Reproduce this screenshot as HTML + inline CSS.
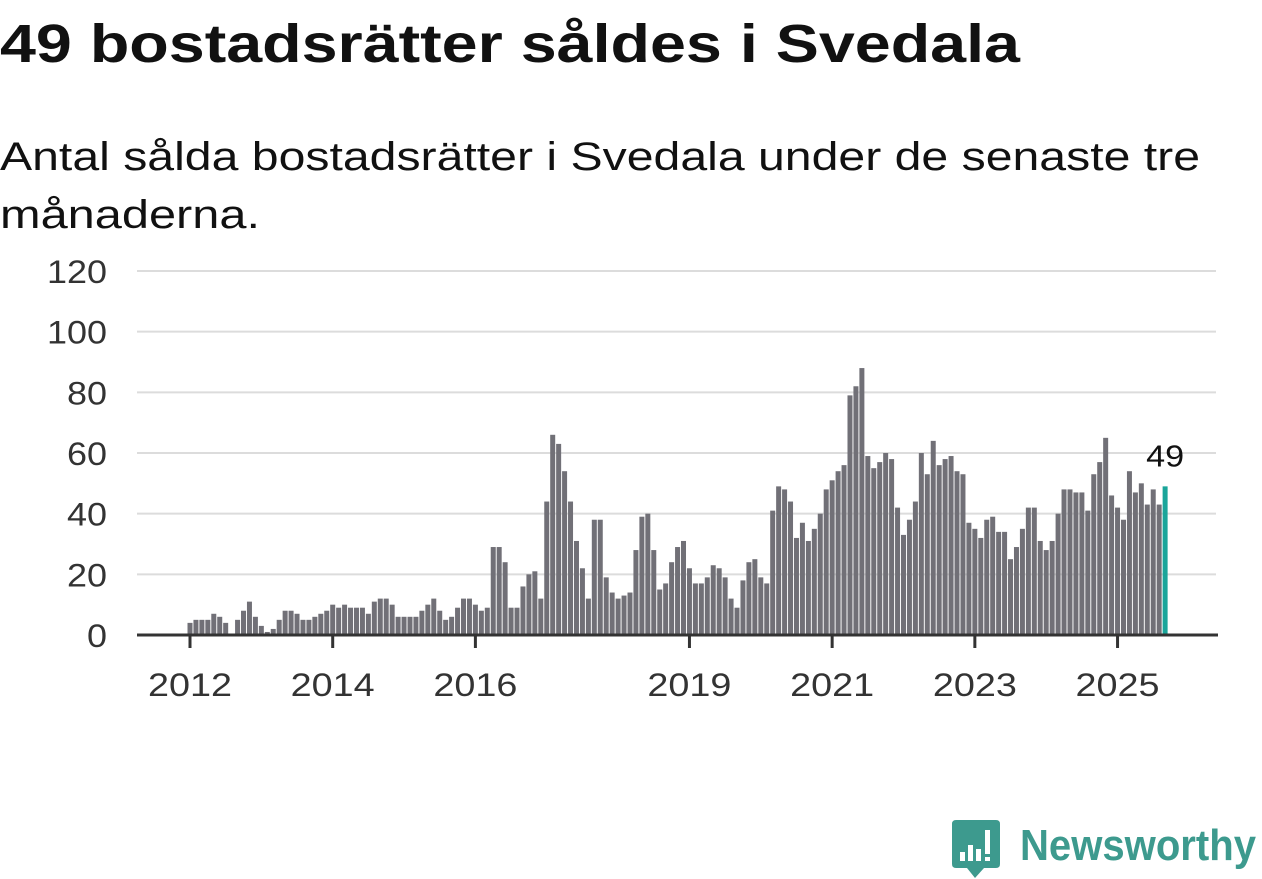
<!DOCTYPE html>
<html><head><meta charset="utf-8"><style>
html,body{margin:0;padding:0;background:#fff;}
svg{display:block;font-family:"Liberation Sans",sans-serif;}
</style></head><body>
<svg id="chart" width="1262" height="879" viewBox="0 0 1262 879" xmlns="http://www.w3.org/2000/svg">
<text x="0" y="62" font-size="54" font-weight="bold" fill="#111" textLength="1020" lengthAdjust="spacingAndGlyphs">49 bostadsrätter såldes i Svedala</text>
<text x="0" y="170" font-size="40" fill="#111" textLength="1200" lengthAdjust="spacingAndGlyphs">Antal sålda bostadsrätter i Svedala under de senaste tre</text>
<text x="0" y="228" font-size="40" fill="#111" textLength="260" lengthAdjust="spacingAndGlyphs">månaderna.</text>
<g id="grid"></g>
<g id="bars"></g>
<g id="xaxis"></g>
<g>
<path d="M956 820 H996 Q1000 820 1000 824 V864 Q1000 868 996 868 H984 L975 878 L967 868 H956 Q952 868 952 864 V824 Q952 820 956 820 Z" fill="#3d9a8e"/>
<rect x="960" y="852" width="5" height="9" fill="#fff"/>
<rect x="968" y="845" width="5" height="16" fill="#fff"/>
<rect x="976" y="849" width="5" height="12" fill="#fff"/>
<rect x="985" y="830" width="5" height="24" fill="#fff"/>
<rect x="985" y="857" width="5" height="4" fill="#fff"/>
<text x="1020" y="860" font-size="44" font-weight="bold" fill="#3d9a8e" textLength="236" lengthAdjust="spacingAndGlyphs">Newsworthy</text>
</g>
</svg>
<script>
const values = [
4,5,5,5,7,6,4,0,5,8,11,6,
3,1,2,5,8,8,7,5,5,6,7,8,
10,9,10,9,9,9,7,11,12,12,10,6,
6,6,6,8,10,12,8,5,6,9,12,12,
10,8,9,29,29,24,9,9,16,20,21,12,
44,66,63,54,44,31,22,12,38,38,19,14,
12,13,14,28,39,40,28,15,17,24,29,31,
22,17,17,19,23,22,19,12,9,18,24,25,
19,17,41,49,48,44,32,37,31,35,40,48,
51,54,56,79,82,88,59,55,57,60,58,42,
33,38,44,60,53,64,56,58,59,54,53,37,
35,32,38,39,34,34,25,29,35,42,42,31,
28,31,40,48,48,47,47,41,53,57,65,46,
42,38,54,47,50,43,48,43,49];
const startYear = 2012;
const yTicks = [0,20,40,60,80,100,120];
const xTickYears = [2012,2014,2016,2019,2021,2023,2025];
const lastLabel = "49";

const NS="http://www.w3.org/2000/svg";
const y0=635, yPer=(635-271)/120;
const x0=190, perMonth=71.35/12;
const yS=v=>y0-v*yPer;
const xS=i=>x0+i*perMonth;
function mk(tag,attrs,parent){const e=document.createElementNS(NS,tag);for(const k in attrs)e.setAttribute(k,attrs[k]);parent.appendChild(e);return e;}
const grid=document.getElementById('grid'),bars=document.getElementById('bars'),xa=document.getElementById('xaxis');
yTicks.forEach(t=>{
  if(t>0){const l=mk('line',{x1:137,x2:1216,y1:yS(t),y2:yS(t),stroke:'#dcdcdc','stroke-width':2},grid);
  
  }
  const s=String(t);
  const tx=mk('text',{x:107,y:yS(t)+12,'font-size':32,fill:'#333','text-anchor':'end',textLength:s.length*20,lengthAdjust:'spacingAndGlyphs'},grid);
  tx.textContent=s;
  
  
});
values.forEach((v,i)=>{
  const last=i===values.length-1;
  const r=mk('rect',{x:xS(i)-2.5,y:yS(v),width:5,height:v*yPer,fill:last?'#1aa59a':'#717077'},bars);
  
  
});
const li=values.length-1;
const lab=mk('text',{x:xS(li),y:yS(values[li])-20,'font-size':31,fill:'#111','text-anchor':'middle',textLength:38,lengthAdjust:'spacingAndGlyphs'},bars);
lab.textContent=lastLabel;


const ax=mk('line',{x1:137,x2:1218,y1:y0,y2:y0,stroke:'#333','stroke-width':3},xa);


xTickYears.forEach(yr=>{
  const x=xS((yr-startYear)*12);
  const t=mk('line',{x1:x,x2:x,y1:y0,y2:y0+13,stroke:'#333','stroke-width':3},xa);
  
  
  const tx=mk('text',{x:x,y:696,'font-size':32,fill:'#333','text-anchor':'middle',textLength:84,lengthAdjust:'spacingAndGlyphs'},xa);
  tx.textContent=yr;
  
  
});
</script>
</body></html>
